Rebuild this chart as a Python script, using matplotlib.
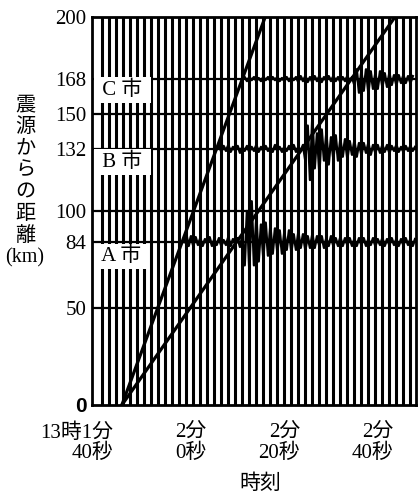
import numpy as np
import matplotlib
matplotlib.use("Agg")
from matplotlib import pyplot as plt
from matplotlib.transforms import ScaledTranslation

plt.rcParams['font.family'] = ['Liberation Serif', 'Noto Sans CJK JP']

# time axis: seconds after 13:01:40
xticks = [0, 20, 40, 60]
xticklabels = ["13時1分\n40秒", "2分\n0秒", "2分\n20秒", "2分\n40秒"]
yticks = [0, 50, 84, 100, 132, 150, 168, 200]
hlines = [50, 84, 100, 132, 150, 168]

# earthquake origin and arrival of the two waves at 200 km
origin_t = 5.7
p_top_t = 36.4
s_top_t = 64.2

cities = ["A 市", "B 市", "C 市"]
city_km = [84, 132, 168]
city_label_t = [5.6, 5.8, 5.8]
city_label_km = [76.5, 125.3, 162.4]

# seismograph traces, offsets (km) every 0.5 s from the start time
dt = 0.5
a_start = 19.0
a_off = [0, 4, -2, 3, -2, 2.5, -1.5, 2, -2, 1.5, -1, 2.5, -2, 1.5, -1.5, 2, -2, 1, -1.5, 2.5,
         -2, 1.5, -1, 2, -2.5, 3, -12, 16, -14, 21, -12, 13, -10, 9, -8, 10, -7, 8, -6, 7,
         -5, 6, -6, 5, -4, 6, -5, 4, -4, 5, -3, 4, -4, 3, -3, 4, -3, 3, -2, 3,
         -3, 2, -2, 3, -2, 2, -2, 2.5, -2, 2, -1.5, 2, -2, 1.5, -2, 2, -1.5, 2, -2, 1.5,
         -1.5, 2, -2, 1.5, -1.5, 2, -2, 1.5, -1.5, 2, -1.5, 1.5, -2, 1.5, -1.5, 2, -1.5, 1.5, -2, 1.5]
b_start = 26.0
b_off = [0, 2, -1.5, 1.5, -1, 2, -1.5, 1, -1, 1.5, -2, 1, -1, 1.5, -1.5, 1, -1, 2, -1.5, 1,
         -1, 1.5, -1, 1, -1.5, 2, -1, 1, -1.5, 1, -1, 1.5, -1, 2, -1.5, 1, -1, 2,
         -6, 12, -16, 16, -10, 8, -12, 10, -6, 8, -8, 6, -5, 7, -6, 5, -4, 5, -5, 4,
         -3, 4, -4, 3, -3, 3, -2, 3, -3, 2, -2, 2, -2, 2, -1.5, 2, -2, 1.5, -1, 2,
         -1.5, 1, -1.5, 1.5, -1, 1.5, -1, 1]
c_start = 31.5
c_off = [0, 1, -1, 1, -0.5, 1, -1, 0.5, -1, 1, -0.5, 1, -1, 1, -0.5, 1, -1, 0.5, -1, 1,
         -1, 1, -0.5, 1, -1.5, 1.5, -1, 1.5, -1.5, 1, -1.5, 1.5, -1, 1.5, -1.5, 1, -1, 1.5,
         -1, 1.5, -1, 1, -1.5, 1, -1, 1.5, -1, 1, -3, 5, -7, 4, -6, 5, -7, 4,
         -5, 3, -5, 4, -4, 3, -4, 3, -3, 2, -3, 2, -2, 2, -2, 1.5, -2, 1.5]

grid_start = 1.5
grid_step = 1.5

fig = plt.figure(figsize=(4.18, 4.94), dpi=100)
ax = fig.add_axes([0.2201, 0.1802, 0.7751, 0.7854])
ax.set_xlim(-0.7, 68.7)
ax.set_ylim(0, 200)

# dense vertical bars of the recording paper
for t in np.arange(grid_start, 68.7, grid_step):
    ax.axvline(t, color='black', lw=2.2, zorder=1)
for h in hlines:
    ax.axhline(h, color='black', lw=1.6, zorder=2)

# traces
for start, off, base in [(a_start, a_off, city_km[0]), (b_start, b_off, city_km[1]),
                         (c_start, c_off, city_km[2])]:
    tt = start + dt * np.arange(len(off))
    ax.plot(tt, base + np.array(off), color='black', lw=1.8, zorder=3)

# P and S wave lines
ax.plot([origin_t, p_top_t], [0, 200], color='black', lw=2.3, zorder=4)
ax.plot([origin_t, s_top_t], [0, 200], color='black', lw=2.3, zorder=4)

for name, t, km in zip(cities, city_label_t, city_label_km):
    ax.text(t, km, " " + name + " ", ha='center', va='center', fontsize=15, zorder=5,
            bbox=dict(boxstyle='square,pad=0.15', fc='white', ec='none'))

for s in ax.spines.values():
    s.set_linewidth(2.0)
    s.set_zorder(6)

ax.set_yticks(yticks)
ax.set_yticklabels([str(v) for v in yticks], fontsize=15)
ax.get_yticklabels()[0].set_fontfamily('Liberation Sans')
ax.get_yticklabels()[0].set_fontweight('bold')
ax.tick_params(axis='y', length=0, pad=4)

ax.set_xticks(xticks)
ax.set_xticklabels(xticklabels, fontsize=15, ha='right', multialignment='right',
                   linespacing=1.1)
ax.tick_params(axis='x', length=0, pad=13)
shift = ScaledTranslation(0.18, 0, fig.dpi_scale_trans)
for lab in ax.get_xticklabels():
    lab.set_transform(lab.get_transform() + shift)

fig.text(25 / 418, 1 - 182 / 494, "震\n源\nか\nら\nの\n距\n離\n(km)", ha='center', va='center',
         fontsize=14.5, linespacing=1.2)
fig.text(260 / 418, 1 - 484 / 494, "時刻", ha='center', va='center', fontsize=15)

fig.savefig("out.png", dpi=100)
